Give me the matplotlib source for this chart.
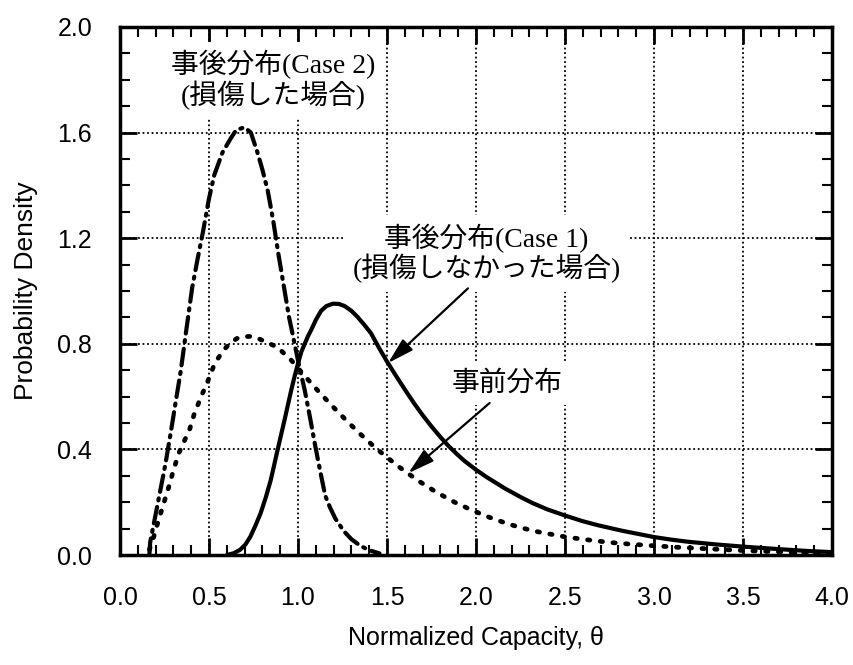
import matplotlib.pyplot as plt
from matplotlib.ticker import MultipleLocator

# Normalized capacity (theta) and densities
theta_case1 = [0.60, 0.64, 0.675, 0.705, 0.733, 0.76, 0.79, 0.82, 0.847, 0.866, 0.885,
               0.905, 0.924, 0.943, 0.962, 0.981, 1.00, 1.019, 1.038, 1.057, 1.076, 1.10,
               1.13, 1.16, 1.197, 1.23, 1.262, 1.30, 1.337, 1.375, 1.41, 1.455, 1.50,
               1.54, 1.58, 1.62, 1.655, 1.70, 1.75, 1.80, 1.843, 1.89, 1.936, 2.00,
               2.06, 2.12, 2.168, 2.255, 2.317, 2.40, 2.507, 2.60, 2.69, 2.82, 2.91,
               3.00, 3.10, 3.194, 3.35, 3.496, 3.62, 3.754, 3.87, 4.00]
pdf_case1 = [0.0, 0.007, 0.02, 0.04, 0.07, 0.11, 0.158, 0.22, 0.284, 0.34, 0.397,
             0.455, 0.51, 0.567, 0.624, 0.677, 0.725, 0.77, 0.80, 0.83, 0.855, 0.89,
             0.925, 0.943, 0.952, 0.951, 0.943, 0.925, 0.90, 0.87, 0.84, 0.785, 0.733,
             0.69, 0.648, 0.607, 0.572, 0.53, 0.487, 0.447, 0.415, 0.384, 0.356, 0.323,
             0.295, 0.27, 0.25, 0.218, 0.197, 0.173, 0.148, 0.128, 0.112, 0.092, 0.08,
             0.068, 0.058, 0.05, 0.04, 0.032, 0.026, 0.02, 0.015, 0.011]

theta_prior = [0.165, 0.19, 0.217, 0.246, 0.275, 0.30, 0.33, 0.36, 0.39, 0.418, 0.456,
               0.494, 0.532, 0.58, 0.62, 0.656, 0.695, 0.733, 0.77, 0.81, 0.885, 0.962,
               1.038, 1.115, 1.19, 1.267, 1.344, 1.42, 1.487, 1.571, 1.674, 1.777,
               1.88, 1.983, 2.086, 2.18, 2.26, 2.354, 2.507, 2.62, 2.746, 2.87, 3.00,
               3.14, 3.287, 3.496, 3.62, 3.754, 3.87, 3.98]
pdf_prior = [0.02, 0.07, 0.133, 0.196, 0.26, 0.32, 0.385, 0.43, 0.473, 0.536, 0.60,
             0.66, 0.725, 0.775, 0.803, 0.82, 0.827, 0.828, 0.822, 0.81, 0.787, 0.738,
             0.678, 0.62, 0.566, 0.513, 0.462, 0.415, 0.377, 0.332, 0.282, 0.238,
             0.20, 0.168, 0.14, 0.118, 0.102, 0.087, 0.068, 0.058, 0.048, 0.041, 0.035,
             0.029, 0.024, 0.017, 0.014, 0.011, 0.007, 0.004]

theta_case2 = [0.165, 0.17, 0.198, 0.227, 0.256, 0.294, 0.313, 0.342, 0.366, 0.405,
               0.437, 0.465, 0.50, 0.53, 0.576, 0.624, 0.653, 0.70, 0.735, 0.77, 0.80,
               0.83, 0.86, 0.89, 0.92, 0.95, 0.975, 1.00, 1.038, 1.067, 1.095, 1.124,
               1.153, 1.18, 1.21, 1.258, 1.30, 1.35, 1.40, 1.458]
pdf_case2 = [0.0, 0.05, 0.146, 0.246, 0.347, 0.50, 0.58, 0.70, 0.82, 1.01,
             1.125, 1.22, 1.35, 1.44, 1.525, 1.58, 1.61, 1.62, 1.60, 1.53, 1.46,
             1.38, 1.27, 1.14, 1.02, 0.90, 0.82, 0.737, 0.624, 0.523, 0.42, 0.32,
             0.225, 0.18, 0.138, 0.09, 0.06, 0.035, 0.018, 0.006]

x_ticks = [0.0, 0.5, 1.0, 1.5, 2.0, 2.5, 3.0, 3.5, 4.0]
y_ticks = [0.0, 0.4, 0.8, 1.2, 1.6, 2.0]

label_font = ['Liberation Sans', 'DejaVu Sans']
note_font = ['Liberation Serif', 'Noto Sans CJK JP', 'DejaVu Sans']

fig = plt.figure(figsize=(8.54, 6.65), dpi=100)
ax = fig.add_axes([0.1405, 0.1654, 0.8337, 0.794])

ax.plot(theta_prior, pdf_prior, color='black', lw=3.4,
        linestyle=(0, (0.5, 2.2)), dash_capstyle='round', zorder=3)
ax.plot(theta_case2, pdf_case2, color='black', lw=3.0,
        linestyle=(0, (4, 1.6, 0.5, 1.6)), dash_capstyle='round', zorder=3)
ax.plot(theta_case1, pdf_case1, color='black', lw=3.0, solid_capstyle='round', zorder=3)

ax.set_xlim(0, 4.0)
ax.set_ylim(0, 2.0)
ax.set_xticks(x_ticks)
ax.set_yticks(y_ticks)
ax.set_xticklabels([f'{v:.1f}' for v in x_ticks], family=label_font, fontsize=18)
ax.set_yticklabels([f'{v:.1f}' for v in y_ticks], family=label_font, fontsize=18)
ax.xaxis.set_minor_locator(MultipleLocator(0.1))
ax.yaxis.set_minor_locator(MultipleLocator(0.1))
ax.tick_params(which='both', direction='in', top=True, right=True, color='black')
ax.tick_params(which='major', length=12, width=2)
ax.tick_params(which='minor', length=7, width=1.5)
ax.tick_params(axis='x', which='major', pad=22)
ax.tick_params(axis='y', which='major', pad=20)
for sp in ax.spines.values():
    sp.set_linewidth(2.5)

ax.grid(True, which='major', color='black', linestyle=(0, (1, 1.5)), lw=1.3, zorder=1)

ax.set_xlabel('Normalized Capacity, θ', family=label_font, fontsize=18, labelpad=12)
ax.set_ylabel('Probability Density', family=label_font, fontsize=19)
ax.yaxis.set_label_coords(-0.115, 0.5)

box = dict(facecolor='white', edgecolor='none', pad=6)
ax.text(0.86, 1.80, '事後分布(Case 2)\n(損傷した場合)', family=note_font, fontsize=20,
        ha='center', va='center', linespacing=1.05, bbox=box, zorder=4)
ax.text(2.06, 1.142, '事後分布(Case 1)\n(損傷しなかった場合)', family=note_font, fontsize=20,
        ha='center', va='center', linespacing=1.05, bbox=box, zorder=4)
ax.text(2.174, 0.65, '事前分布', family=note_font, fontsize=20,
        ha='center', va='center', bbox=box, zorder=4)

arrow = dict(arrowstyle='-|>,head_length=1.6,head_width=0.45', color='black', lw=1.6,
             shrinkA=0, shrinkB=0)
ax.annotate('', xy=(1.506, 0.727), xytext=(1.955, 1.01), arrowprops=arrow, zorder=5)
ax.annotate('', xy=(1.62, 0.31), xytext=(2.077, 0.576), arrowprops=arrow, zorder=5)

fig.savefig('out.png', dpi=100)
